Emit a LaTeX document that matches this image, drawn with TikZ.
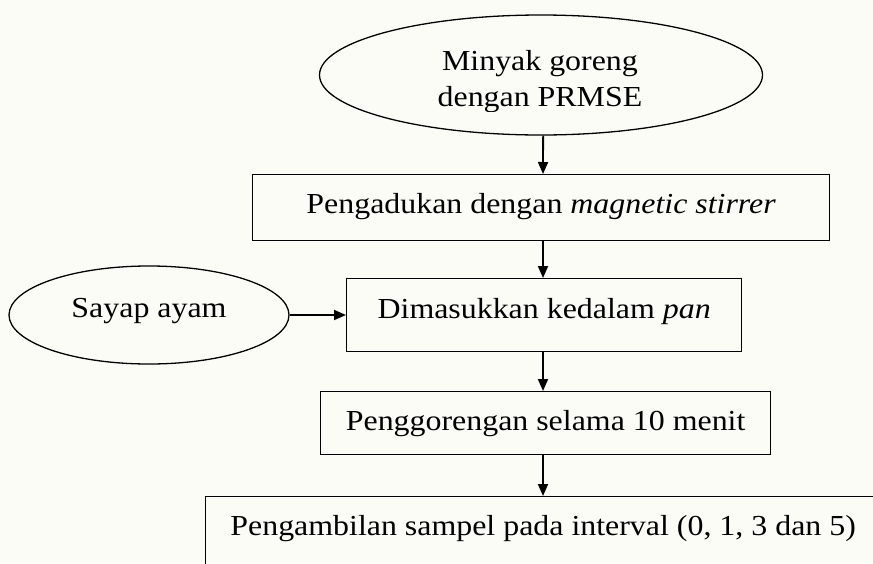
\documentclass[tikz,border=0pt]{standalone}
\usepackage{fontspec}
\setmainfont{Liberation Serif}[FakeStretch=1.1]
\usetikzlibrary{shapes.geometric,arrows.meta}
\definecolor{paper}{RGB}{252,252,247}
\begin{document}
\begin{tikzpicture}[x=1pt,y=-1pt,
  every node/.style={font=\fontsize{29}{36}\selectfont},
  boxnode/.style={draw, line width=1.3pt, rectangle, inner sep=0pt, anchor=north west},
  ovalnode/.style={draw, line width=1.3pt, ellipse, inner sep=0pt},
  flow/.style={line width=1.8pt, -{Triangle[length=12pt,width=10pt]}}]
\fill[paper] (0,0) rectangle (873,563);
\useasboundingbox (0,0) rectangle (873,563);
\clip (0,0) rectangle (873,563);
% start ellipse
\node[ovalnode, minimum width=443pt, minimum height=120pt] (oil) at (541,75) {};
\begin{scope}
\clip (320,40) rectangle (763,111);
\node[align=center, inner sep=0pt, anchor=base] (oiltxt) at (540,106) {Minyak goreng\\dengan PRMSE};
\end{scope}
% boxes
\node[boxnode, minimum width=577pt, text height=39pt, text depth=27pt] (stir) at (252,174) {Pengadukan dengan \textit{magnetic stirrer}};
\node[boxnode, minimum width=395pt, text height=40pt, text depth=33pt] (pan) at (346,278) {Dimasukkan kedalam \textit{pan}};
\node[boxnode, minimum width=450pt, text height=39pt, text depth=24pt] (fry) at (320,391) {Penggorengan selama 10 menit};
\node[boxnode, minimum width=675pt, text height=39pt, text depth=70pt] (sample) at (205,496) {Pengambilan sampel pada interval (0, 1, 3 dan 5)};
% side ellipse
\node[ovalnode, minimum width=280pt, minimum height=98pt, text height=9pt, text depth=5pt] (wing) at (149,315) {Sayap ayam};
% connectors
\draw[flow] (oil.south -| stir.north) ++(2,0) -- (stir.north -| 543,0);
\draw[flow] (stir.south -| 543,0) -- (pan.north -| 543,0);
\draw[flow] (pan.south -| 543,0) -- (fry.north -| 543,0);
\draw[flow] (fry.south -| 543,0) -- (sample.north -| 543,0);
\draw[flow] (wing.east) -- (wing.east -| pan.west);
\end{tikzpicture}
\end{document}
